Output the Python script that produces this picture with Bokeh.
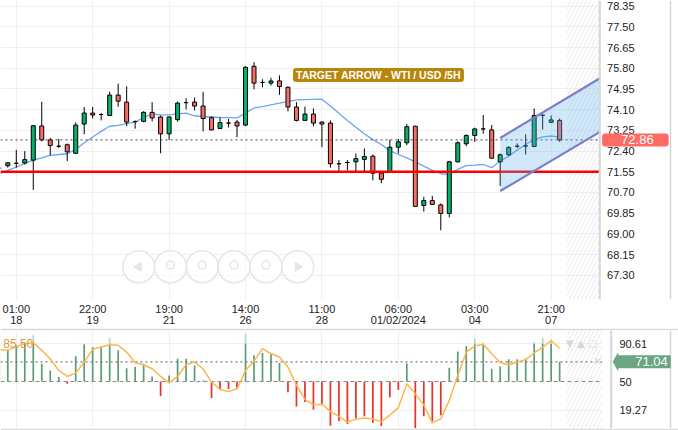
import numpy as np
from bokeh.plotting import figure
from bokeh.layouts import column
from bokeh.models import (ColumnDataSource, FixedTicker, Span, Label, Range1d)
from bokeh.core.properties import value
from bokeh.embed import file_html
from bokeh.resources import INLINE

FONT = "Liberation Sans"

# ---------------- data (5H candles, WTI / USD) ----------------
opens = [71.70, 71.80, 71.90, 71.91, 72.03, 73.43, 72.86, 72.60, 72.66, 72.31,
         73.51, 73.96, 73.90, 73.86, 74.70, 74.41, 73.61, 73.62, 73.99, 73.80,
         73.11, 73.69, 74.39, 74.41, 74.25, 73.77, 73.33, 73.55, 73.59, 73.47,
         75.88, 75.22, 75.19, 75.28, 75.02, 74.21, 73.66, 73.92, 73.59, 73.55,
         71.88, 71.93, 71.96, 72.06, 72.19, 71.50, 71.56, 72.56, 72.74, 73.42,
         70.17, 70.37, 70.19, 69.84, 71.96, 72.70, 73.04, 73.31, 73.27, 71.96,
         72.25, 72.60, 72.61, 72.59, 73.87, 73.58, 73.66]
highs = [71.80, 71.93, 72.45, 72.40, 73.47, 74.42, 72.94, 72.90, 72.71, 73.58,
         74.21, 74.21, 73.96, 74.84, 75.17, 75.06, 73.66, 74.04, 74.41, 73.86,
         73.82, 74.43, 74.57, 74.60, 74.83, 73.82, 73.78, 73.72, 73.68, 75.89,
         76.05, 75.35, 75.41, 75.51, 75.05, 74.41, 74.23, 74.15, 73.62, 73.66,
         72.03, 72.03, 72.30, 72.51, 72.26, 71.54, 72.87, 72.90, 73.51, 73.44,
         70.52, 70.56, 70.25, 72.00, 72.80, 73.09, 73.36, 73.88, 73.47, 72.30,
         72.60, 72.72, 73.09, 74.15, 73.90, 73.86, 73.74]
lows = [71.51, 71.72, 71.72, 71.85, 70.81, 72.80, 72.22, 72.53, 71.99, 72.29,
        73.09, 73.74, 73.66, 73.84, 74.22, 73.42, 73.32, 73.58, 73.62, 72.31,
        72.86, 73.61, 74.11, 74.07, 73.21, 73.25, 73.31, 73.37, 72.97, 73.42,
        74.94, 75.02, 75.09, 74.71, 74.03, 73.62, 73.64, 73.42, 72.56, 71.72,
        71.54, 71.61, 71.56, 71.58, 71.20, 71.08, 71.51, 72.30, 72.64, 70.13,
        69.92, 70.18, 69.15, 69.68, 71.93, 72.60, 72.78, 73.11, 72.09, 70.97,
        72.19, 72.52, 72.26, 72.56, 73.29, 73.55, 72.78]
closes = [71.70, 71.92, 71.90, 72.05, 73.44, 72.86, 72.63, 72.60, 72.37, 73.47,
          73.96, 73.88, 73.90, 74.70, 74.45, 73.59, 73.61, 73.99, 73.76, 73.11,
          73.80, 74.37, 74.39, 74.25, 73.74, 73.27, 73.57, 73.55, 73.43, 75.84,
          75.19, 75.22, 75.28, 75.05, 74.21, 73.66, 73.92, 73.55, 73.51, 71.88,
          71.88, 71.93, 72.09, 72.18, 71.49, 71.24, 72.56, 72.78, 73.40, 70.13,
          70.37, 70.21, 69.84, 71.96, 72.74, 73.04, 73.31, 73.31, 72.11, 72.25,
          72.55, 72.60, 72.61, 73.86, 73.87, 73.68, 72.86]
moving_avg = [71.47, 71.61, 71.74, 71.90, 72.03, 72.12, 72.22, 72.26, 72.29, 72.47,
              72.74, 72.98, 73.21, 73.42, 73.46, 73.53, 73.59, 73.78, 73.93, 73.89,
              73.89, 73.93, 73.96, 73.85, 73.82, 73.80, 73.78, 73.77, 73.76, 73.96,
              74.17, 74.23, 74.30, 74.37, 74.43, 74.50, 74.51, 74.52, 74.53, 74.25,
              73.95, 73.66, 73.38, 73.11, 72.87, 72.67, 72.42, 72.26, 72.12, 71.96,
              71.78, 71.61, 71.47, 71.44, 71.65, 71.80, 71.82, 71.85, 71.72, 71.99,
              72.19, 72.44, 72.67, 72.87, 72.98, 73.02, 72.97]

# oscillator (lower panel)
osc_bars = [80.0, 84.0, 88.7, 90.5, 99.5, 69.0, 61.8, 54.7, 47.5, 76.9,
            89.8, 86.9, 86.9, 97.0, 83.3, 64.3, 65.4, 69.0, 55.4, 34.6,
            56.5, 74.4, 74.4, 67.2, 51.0, 32.4, 42.1, 42.1, 42.1, 100.5,
            78.0, 80.5, 79.7, 69.7, 38.5, 23.2, 28.0, 20.0, 26.0, 2.8,
            7.8, 4.6, 10.5, 12.9, 5.9, 2.5, 33.1, 41.0, 69.3, 0.0,
            12.7, 7.3, 14.0, 64.7, 82.0, 88.0, 96.0, 90.4, 63.6, 66.0,
            73.8, 73.8, 74.3, 92.0, 96.5, 95.0, 71.04]
osc_line = [84.1, 83.3, 87.6, 90.5, 91.6, 83.3, 74.4, 61.8, 55.4, 59.0,
            70.8, 84.4, 86.9, 89.4, 88.7, 81.5, 70.1, 67.9, 63.6, 55.4,
            48.6, 55.4, 67.9, 70.8, 63.6, 49.3, 41.4, 39.2, 42.1, 61.8,
            71.9, 85.1, 79.7, 76.2, 65.4, 46.0, 31.0, 25.0, 25.7, 18.0,
            12.6, 6.4, 9.5, 11.0, 10.0, 7.0, 14.0, 22.0, 47.5, 36.8,
            25.0, 5.8, 10.0, 29.7, 56.5, 81.4, 88.0, 89.8, 79.6, 70.4,
            67.7, 70.8, 73.4, 80.5, 86.8, 93.6, 85.5]

tick_idx = [2, 11, 20, 29, 38, 47, 56, 65]
tick_time = ["01:00", "22:00", "19:00", "14:00", "11:00", "06:00", "03:00", "21:00"]
tick_date = ["18", "19", "21", "26", "28", "01/02/2024", "04", "07"]
price_ticks = [67.30, 68.15, 69.00, 69.85, 70.70, 71.55, 72.40, 73.25,
               74.10, 74.95, 75.80, 76.65, 77.50, 78.35]
osc_ticks = [19.27, 50.0, 90.61]
osc_tick_labels = ["19.27", "50", "90.61"]

last_price = 72.86
support_level = 71.55
osc_last = 71.04
osc_line_last = "85.50"
osc_mid = 50.0
osc_upper = 90.61
future_start = 66.9          # first slot after the last candle

channel_x = [59, 70.7]
channel_upper = [72.94, 75.38]
channel_lower = [70.76, 73.18]

title_text = "TARGET ARROW - WTI / USD /5H"
title_x, title_y = 44.66, 75.52

# ---------------- layout geometry (candle-index units) ----------------
X0, X1 = 0.14, 80.0          # full canvas width
AX_MAIN = 70.73              # right edge of price pane
AX_OSC = 71.0                # right edge of oscillator pane
AX_OSC_LINE = 72.07
RIGHT_BORDER = 79.06
LBL_MAIN_X = 71.58
LBL_OSC_X = 73.05
TAG_MAIN_X = 71.0
TAG_OSC_X = 72.78

GREEN = "#06b16b"
RED = "#f56f66"
GRID = "#efefef"
BORDER = "#d6d6d6"

idx = list(range(len(opens)))
body_top = [max(o, c) for o, c in zip(opens, closes)]
body_bot = [min(o, c) for o, c in zip(opens, closes)]
body_col = [GREEN if c > o else (RED if c < o else "black") for o, c in zip(opens, closes)]

src = ColumnDataSource(dict(x=idx, o=opens, h=highs, l=lows, c=closes,
                            top=body_top, bot=body_bot, col=body_col, ma=moving_avg))

# ---------------- main price panel ----------------
p1 = figure(width=678, height=328, output_backend="svg", toolbar_location=None,
            x_range=Range1d(X0, X1), y_range=Range1d(66.307, 78.5825),
            y_axis_location=None, min_border_left=0, min_border_right=0,
            min_border_top=0, min_border_bottom=0)
p1.outline_line_color = None
p1.background_fill_color = "white"
p1.border_fill_color = "white"

p1.xaxis.ticker = FixedTicker(ticks=tick_idx)
p1.xaxis.major_label_overrides = {t: f"{a}\n{b}" for t, a, b in zip(tick_idx, tick_time, tick_date)}
p1.xaxis.axis_line_color = None
p1.xaxis.major_tick_line_color = None
p1.xaxis.minor_tick_line_color = None
p1.xaxis.major_tick_out = 0
p1.xaxis.major_tick_in = 0
p1.xaxis.major_label_standoff = 3
p1.xaxis.major_label_text_font = FONT
p1.xaxis.major_label_text_font_size = "11px"
p1.xaxis.major_label_text_line_height = 0.92
p1.xaxis.major_label_text_color = "#222222"

p1.xgrid.grid_line_color = GRID
p1.ygrid.ticker = FixedTicker(ticks=price_ticks)
p1.ygrid.grid_line_color = GRID

# future (hatched) zone
p1.quad(left=future_start, right=AX_MAIN, bottom=0, top=200,
        fill_alpha=0, line_color=None, hatch_pattern="/", hatch_color="#e8e8e8",
        hatch_weight=1, hatch_scale=8)

# navigation buttons (faint UI)
nav_x = [16.42 + 3.745 * k for k in range(6)]
nav_y = [67.65] * 6
p1.scatter(nav_x, nav_y, marker="circle", size=32, fill_color="white", fill_alpha=0.6,
           line_color="#e6e6e6", line_width=1.5)
p1.scatter([nav_x[0], nav_x[-1]], [67.65, 67.65], marker="triangle", size=9,
           angle=[np.pi / 2, -np.pi / 2], fill_color="#e6e6e6", line_color="#e6e6e6")
p1.scatter(nav_x[1:5], [67.72] * 4, marker="circle", size=8, fill_color=None,
           line_color="#e6e6e6", line_width=1.5)

# moving average
p1.line("x", "ma", source=src, line_color="#69a6f3", line_width=1.3)

# candles
p1.segment("x", "h", "x", "l", source=src, line_color="black", line_width=1)
p1.vbar(x="x", width=0.47, top="top", bottom="bot", source=src,
        fill_color="col", line_color="black", line_width=1)

# support line and last-price line
p1.segment(X0, support_level, AX_MAIN, support_level, line_color="#ff0000", line_width=2.5)
p1.segment(X0, last_price, AX_MAIN, last_price, line_color="#444444",
           line_width=1, line_dash="2 3")

# trend channel
p1.patch([channel_x[0], channel_x[1], channel_x[1], channel_x[0]],
         [channel_upper[0], channel_upper[1], channel_lower[1], channel_lower[0]],
         fill_color="#64b4f0", fill_alpha=0.3, line_color=None)
p1.line(channel_x, channel_upper, line_color="#7b7ec8", line_width=2.2)
p1.line(channel_x, channel_lower, line_color="#7b7ec8", line_width=2.2)

# price scale area
p1.quad(left=AX_MAIN, right=X1 + 1, bottom=0, top=200, fill_color="white", line_color=None)
p1.add_layout(Span(location=AX_MAIN, dimension="height", line_color=BORDER, line_width=2))
p1.add_layout(Span(location=RIGHT_BORDER, dimension="height", line_color=BORDER, line_width=1.5))
p1.text(x=[LBL_MAIN_X] * len(price_ticks), y=price_ticks,
        text=[f"{t:.2f}" for t in price_ticks], text_align="left", text_baseline="middle",
        text_font=value(FONT), text_font_size="11px", text_color="#222222")

# title tag
p1.add_layout(Label(x=title_x, y=title_y, text=title_text, text_align="center",
                    text_baseline="middle", text_color="white", text_font=FONT,
                    text_font_style="bold", text_font_size="10.5px",
                    background_fill_color="#b8860b", border_radius=3,
                    padding=dict(left=3, right=3, top=1, bottom=1)))

# last price tag
p1.add_layout(Label(x=TAG_MAIN_X, y=last_price, text=f"{last_price:.2f}", text_align="left",
                    text_baseline="middle", text_color="white", text_font=FONT,
                    text_font_size="13px", background_fill_color="#ff6b63",
                    border_radius=3, padding=dict(left=19, right=15, top=2, bottom=2)))

# ---------------- oscillator panel ----------------
p2 = figure(width=678, height=102, output_backend="svg", toolbar_location=None,
            x_range=Range1d(X0, X1), y_range=Range1d(-0.27, 104.55),
            y_axis_location=None, x_axis_location=None,
            min_border_left=0, min_border_right=0, min_border_top=2, min_border_bottom=2)
p2.outline_line_color = None
p2.border_fill_color = "#d9d9d9"
p2.background_fill_color = "white"

p2.xgrid.ticker = FixedTicker(ticks=tick_idx)
p2.xgrid.grid_line_color = GRID
p2.ygrid.ticker = FixedTicker(ticks=[osc_ticks[0], osc_ticks[2]])
p2.ygrid.grid_line_color = GRID

p2.quad(left=future_start, right=AX_OSC, bottom=-10, top=200,
        fill_alpha=0, line_color=None, hatch_pattern="/", hatch_color="#e8e8e8",
        hatch_weight=1, hatch_scale=8)

bar_top = [min(v, osc_upper) if v >= osc_mid else v for v in osc_bars]
bar_col = ["#5b9c74" if v >= osc_mid else "#e8302c" for v in osc_bars]
p2.segment(idx, [osc_mid] * len(idx), idx, bar_top, line_color=bar_col, line_width=1.7)
hi_x = [i for i, v in zip(idx, osc_bars) if v > osc_upper]
hi_v = [v for v in osc_bars if v > osc_upper]
p2.segment(hi_x, [osc_upper] * len(hi_x), hi_x, hi_v, line_color="#b9d8c5", line_width=1.7)

p2.segment(X0, osc_mid, AX_OSC, osc_mid, line_color="#8a8a8a", line_width=1, line_dash="4 3")
p2.segment(X0, osc_last, AX_OSC, osc_last, line_color="#7a7a7a", line_width=1.2, line_dash="2 3")

p2.line(idx, osc_line, line_color="#ffb54d", line_width=1.5)

p2.add_layout(Label(x=0.46, y=91, text=osc_line_last, text_align="left",
                    text_baseline="middle", text_color="#d9993f", text_font=FONT,
                    text_font_size="12px"))
p2.add_layout(Label(x=66.75, y=91, text="▼ ▲ ▢", text_align="left", text_baseline="middle",
                    text_color="#d8d8d8", text_font="DejaVu Sans", text_font_size="10px"))
p2.add_layout(Label(x=70.46, y=71.8, text="✕", text_align="center", text_baseline="middle",
                    text_color="#d8d8d8", text_font="DejaVu Sans", text_font_size="11px"))

# indicator scale area
p2.quad(left=AX_OSC, right=X1 + 1, bottom=-10, top=200, fill_color="white", line_color=None)
p2.add_layout(Span(location=AX_OSC_LINE, dimension="height", line_color=BORDER, line_width=2))
p2.add_layout(Span(location=RIGHT_BORDER, dimension="height", line_color=BORDER, line_width=1.5))
p2.text(x=[LBL_OSC_X] * len(osc_ticks), y=osc_ticks, text=osc_tick_labels,
        text_align="left", text_baseline="middle", text_font=value(FONT),
        text_font_size="11px", text_color="#222222")

# indicator value tag (pointed left side + box)
p2.patch([72.31, 72.86, 72.86], [osc_last, osc_last + 8.9, osc_last - 8.9],
         fill_color="#6aa682", line_color="#6aa682")
p2.add_layout(Label(x=TAG_OSC_X, y=osc_last, text=f"{osc_last:.2f}", text_align="left",
                    text_baseline="middle", text_color="white", text_font=FONT,
                    text_font_size="13px", background_fill_color="#6aa682",
                    padding=dict(left=18, right=3, top=2, bottom=2)))

layout = column(p1, p2, spacing=0)
open("out.html", "w").write(file_html(layout, INLINE))
